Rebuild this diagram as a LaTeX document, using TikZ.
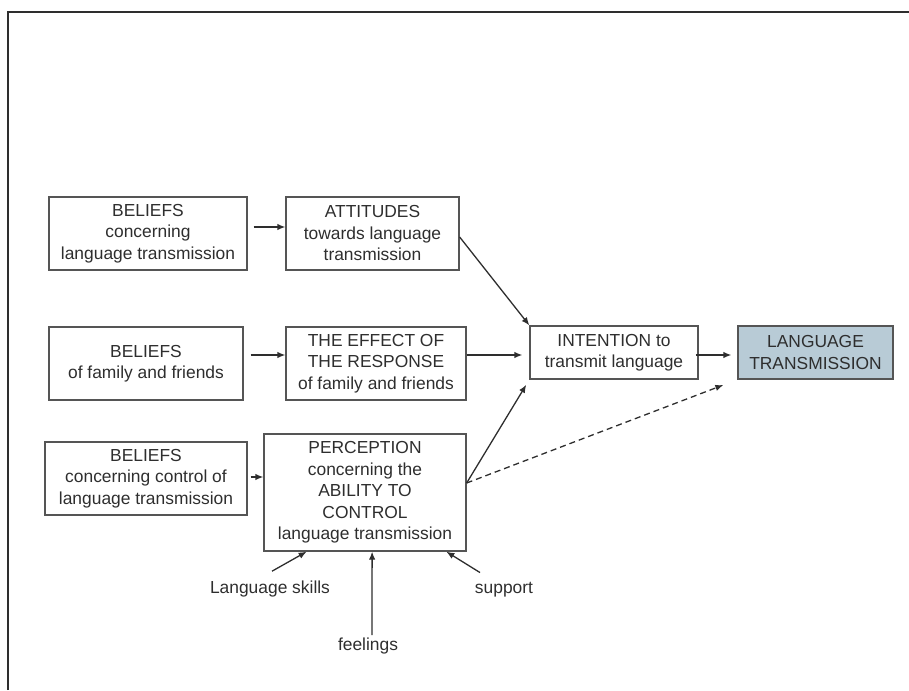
\documentclass[tikz,border=0pt]{standalone}
\usepackage{fontspec}
\setmainfont{Liberation Sans}
\usetikzlibrary{arrows.meta,calc}
\definecolor{txt}{HTML}{2E2E2E}
\definecolor{bord}{HTML}{555555}
\definecolor{ltfill}{HTML}{B8CBD6}
\begin{document}
\begin{tikzpicture}[x=1pt,y=-1pt,
  box/.style={draw=bord,line width=1.3pt,align=center,inner sep=0pt,text=txt,
    font=\fontsize{17.4}{21.5}\selectfont},
  lbl/.style={inner sep=0pt,text=txt,font=\fontsize{17.4}{21.5}\selectfont,anchor=base},
  conn/.style={draw=txt,line width=1.3pt,-{Latex[length=8pt,width=6.5pt]}}
]
\useasboundingbox (0,0) rectangle (909,690);
\draw[draw=txt,line width=2.2pt] (8,690) -- (8,12) -- (909,12);

\node[box,minimum width=198pt,minimum height=73pt] (B1) at (148,233.5)
  {BELIEFS\\concerning\\language transmission};
\node[box,minimum width=173pt,minimum height=73pt] (A1) at (372.5,233.5)
  {ATTITUDES\\towards language\\transmission};
\node[box,minimum width=194pt,minimum height=73pt] (B2) at (146,363.5)
  {BELIEFS\\of family and friends};
\node[box,minimum width=180pt,minimum height=73pt] (E2) at (376,363.5)
  {THE EFFECT OF\\THE RESPONSE\\of family and friends};
\node[box,minimum width=168pt,minimum height=53pt] (I) at (614,352.5)
  {INTENTION to\\transmit language};
\node[box,fill=ltfill,minimum width=155pt,minimum height=53pt] (LT) at (815.5,352.5)
  {LANGUAGE\\TRANSMISSION};
\node[box,minimum width=202pt,minimum height=73pt] (B3) at (146,478.5)
  {BELIEFS\\concerning control of\\language transmission};
\node[box,minimum width=202pt,minimum height=117pt] (P) at (365,492.5)
  {PERCEPTION\\concerning the\\ABILITY TO\\CONTROL\\language transmission};

\node[lbl] (ls) at (270,593) {Language skills};
\node[lbl] (fe) at (368,650) {feelings};
\node[lbl] (su) at (504,593) {support};

\coordinate (pe) at ($(P.east)+(0,-9.5)$);

\draw[conn,shorten <=6pt] (B1.east |- 0,227) -- (A1.west |- 0,227);
\draw[conn] ($(A1.east)+(0,3.5)$) -- (I.north west);
\draw[conn,shorten <=7pt] (B2.east |- 0,355) -- (E2.west |- 0,355);
\draw[conn,shorten >=7pt] (E2.east |- 0,355) -- (I.west |- 0,355);
\draw[conn,shorten <=-3pt,shorten >=6pt] (I.east |- 0,355) -- (LT.west |- 0,355);
\draw[conn,shorten <=3pt] (B3.east |- 0,477) -- (P.west |- 0,477);
\draw[conn,shorten >=6pt] (pe) -- (I.south west);
\draw[conn,dash pattern=on 6pt off 4pt,shorten >=15pt] (pe) -- (LT.south west);

\draw[conn] ([xshift=2pt,yshift=9pt]ls.north) -- ($(P.south west)!0.213!(P.south east)$);
\draw[conn] ([xshift=4pt,yshift=2pt]fe.north) -- ($(P.south west)!0.535!(P.south east)$);
\draw[conn] ([xshift=-24pt,yshift=9pt]su.north) -- ($(P.south west)!0.9!(P.south east)$);
\end{tikzpicture}
\end{document}
